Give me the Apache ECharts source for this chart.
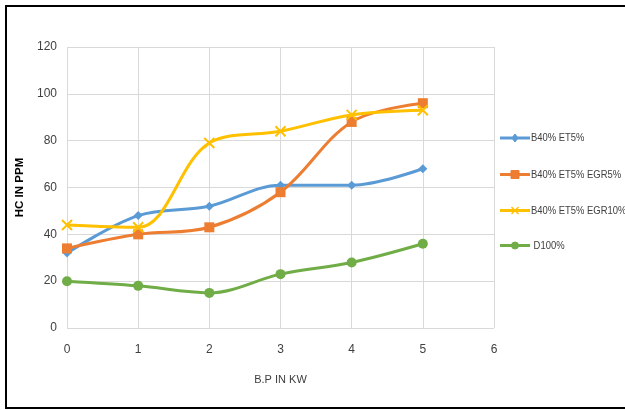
<!DOCTYPE html>
<html>
<head>
<meta charset="utf-8">
<script src="https://cdn.jsdelivr.net/npm/echarts@6/dist/echarts.min.js"></script>
<style>
  html, body { margin: 0; padding: 0; background: #fff; }
  #chart { width: 625px; height: 410px; }
</style>
</head>
<body>
<div id="chart"></div>
<script>
// Brake power (kW) on the x axis
const loads = [0, 1, 2, 3, 4, 5];

// HC emissions (ppm) per fuel blend
const b40et5 = [32, 48, 52, 61, 61, 68];
const b40et5egr5 = [34, 40, 43, 58, 88, 96];
const b40et5egr10 = [44, 43, 79, 84, 91, 93];
const d100 = [20, 18, 15, 23, 28, 36];

const seriesNames = ['B40% ET5%', 'B40% ET5% EGR5%', 'B40% ET5% EGR10%', ' D100%'];

const font = '"Liberation Sans", Arial, sans-serif';
const labelColor = '#404040';

function pairs(ys) {
  return loads.map((x, i) => [x, ys[i]]);
}

const crossPath = 'path://M0,0L10,10M10,0L0,10';

const defs = [
  { name: seriesNames[0], data: b40et5, color: '#5b9bd5', symbol: 'diamond', size: 9 },
  { name: seriesNames[1], data: b40et5egr5, color: '#ed7d31', symbol: 'rect', size: 10 },
  { name: seriesNames[2], data: b40et5egr10, color: '#ffc000', symbol: crossPath, size: 10 },
  { name: seriesNames[3], data: d100, color: '#70ad47', symbol: 'circle', size: 10 }
];

// Legend entries: a short line with the marker, and a slightly condensed label
function legendMarker(d, cx, cy) {
  const s = { fill: d.color, stroke: d.color };
  if (d.symbol === 'diamond') {
    return { type: 'polygon', shape: { points: [[cx, cy - 4], [cx + 3, cy], [cx, cy + 4], [cx - 3, cy]] }, style: s };
  }
  if (d.symbol === 'rect') {
    return { type: 'rect', shape: { x: cx - 4, y: cy - 4, width: 8, height: 8 }, style: s };
  }
  if (d.symbol === 'circle') {
    return { type: 'circle', shape: { cx: cx, cy: cy, r: 3.5 }, style: s };
  }
  return {
    type: 'group',
    children: [
      { type: 'line', shape: { x1: cx - 3.5, y1: cy - 3.5, x2: cx + 3.5, y2: cy + 3.5 }, style: { stroke: d.color, lineWidth: 1.5 } },
      { type: 'line', shape: { x1: cx + 3.5, y1: cy - 3.5, x2: cx - 3.5, y2: cy + 3.5 }, style: { stroke: d.color, lineWidth: 1.5 } }
    ]
  };
}

const legendRows = [138, 174.5, 210.5, 245.5];
const legendItems = [];
defs.forEach((d, i) => {
  const y = legendRows[i];
  legendItems.push({ type: 'line', shape: { x1: 500, y1: y, x2: 530, y2: y }, style: { stroke: d.color, lineWidth: 3 }, silent: true });
  legendItems.push(Object.assign(legendMarker(d, 515, y), { silent: true }));
  legendItems.push({
    type: 'text',
    x: 531, y: y,
    scaleX: 0.82,
    style: { text: d.name, fontFamily: font, fontSize: 11.5, fill: labelColor, textVerticalAlign: 'middle', verticalAlign: 'middle' },
    silent: true
  });
});

const chart = echarts.init(document.getElementById('chart'));
chart.setOption({
  animation: false,
  backgroundColor: '#fff',
  textStyle: { fontFamily: font },
  grid: { left: 67, right: 131, top: 47, bottom: 82 },
  graphic: [{
    type: 'rect',
    shape: { x: 6, y: 6, width: 680, height: 402 },
    style: { fill: 'none', stroke: '#000', lineWidth: 2 },
    silent: true
  }].concat(legendItems),
  xAxis: {
    type: 'value',
    min: 0, max: 6, interval: 1,
    name: 'B.P IN KW',
    nameLocation: 'middle',
    nameGap: 46,
    nameTextStyle: { fontFamily: font, fontSize: 11, color: labelColor },
    axisLine: { show: false },
    axisTick: { show: false },
    axisLabel: { fontFamily: font, fontSize: 12, color: labelColor, margin: 16 },
    splitLine: { show: true, lineStyle: { color: '#d9d9d9', width: 1 } }
  },
  yAxis: {
    type: 'value',
    min: 0, max: 120, interval: 20,
    name: 'HC IN PPM',
    nameLocation: 'middle',
    nameGap: 33,
    nameRotate: 90,
    nameTextStyle: { fontFamily: font, fontSize: 11.5, fontWeight: 'bold', color: '#000' },
    axisLine: { show: false },
    axisTick: { show: false },
    axisLabel: { fontFamily: font, fontSize: 12, color: labelColor, margin: 10 },
    splitLine: { show: true, lineStyle: { color: '#d9d9d9', width: 1 } }
  },
  series: defs.map(d => ({
    name: d.name,
    type: 'line',
    smooth: 0.35,
    data: pairs(d.data),
    symbol: d.symbol,
    symbolSize: d.size,
    lineStyle: { color: d.color, width: 3 },
    itemStyle: { color: d.color, borderColor: d.color, borderWidth: d.symbol === crossPath ? 2 : 0 },
    emphasis: { disabled: true }
  }))
});
</script>
</body>
</html>
